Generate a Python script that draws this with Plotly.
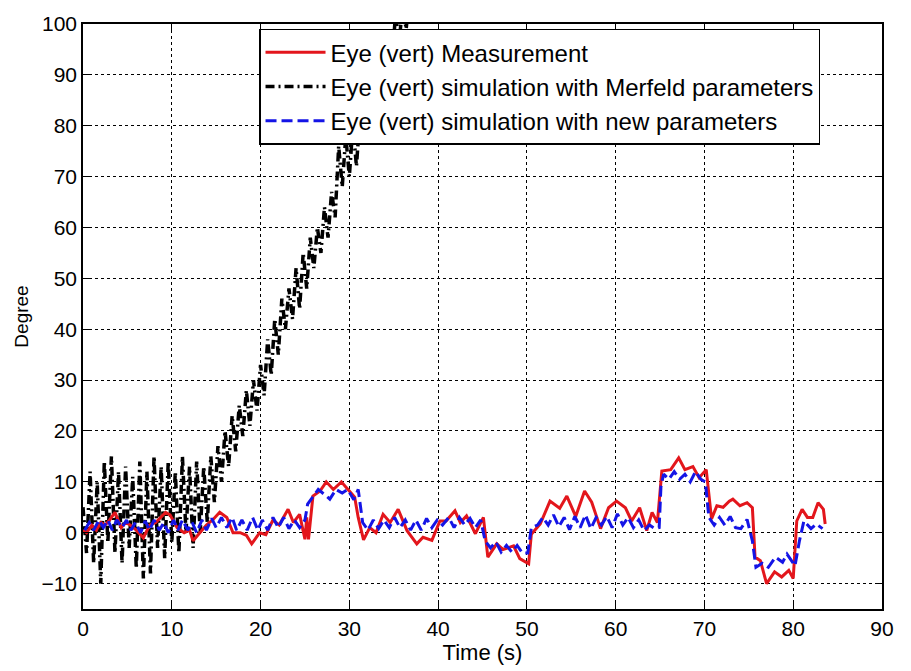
import plotly.graph_objects as go

# ---------------- data ----------------
red_t = [0.0, 0.4, 1.0, 1.5, 2.0, 2.5, 3.0, 3.6, 4.3, 4.8, 5.3, 6.0, 6.8, 7.5, 8.2, 8.7, 9.3, 9.8,
         10.6, 11.4, 12.0, 12.4, 13.2, 13.9, 14.6, 15.4, 16.2, 16.9, 17.7, 18.4, 19.0, 19.9, 20.6,
         21.4, 22.1, 23.1, 23.7, 24.4, 25.0, 25.2, 25.4, 25.9, 26.7, 27.4, 28.2, 29.1, 30.0, 30.6,
         31.0, 31.6, 32.3, 33.0, 33.8, 34.6, 35.5, 36.5, 37.6, 38.3, 39.3, 40.2, 40.9, 41.9, 42.5,
         43.2, 44.2, 45.1, 45.6, 46.6, 47.3, 48.5, 49.2, 50.2, 50.5, 51.5, 52.6, 53.7, 54.5, 55.5,
         56.5, 57.3, 58.3, 59.2, 60.1, 61.1, 61.8, 62.7, 63.5, 64.1, 64.7, 65.2, 66.2, 67.1, 67.8,
         68.7, 69.4, 70.2, 70.8, 71.4, 72.1, 72.8, 73.2, 74.0, 74.8, 75.4, 75.7, 76.3, 77.0, 77.9,
         78.7, 79.5, 80.0, 80.4, 81.0, 81.6, 82.2, 82.8, 83.4, 83.6]
red_v = [0.5, 0, 1.5, 0.5, 2, 1.5, 2.5, 4, 1, 2, 1.5, 0.5, -1, 1.5, 2, 3, 4, 3.5,
         1, 0, 0.5, -1.6, 0, 1.5, 2.5, 4, 3, 0, 0, -0.5, -2.2, 0, -0.4,
         2.5, 1.5, 4.6, 2, 3.6, -1.3, 3, -1.3, 7.2, 8.2, 10, 8.5, 10, 8.2, 7,
         3, -1.4, 1, 0, 3.6, 2, 4.6, 0.4, -2.2, -0.9, -1.5, 2.3, 2.3, 4.3, 2,
         3.3, -0.2, 3, -4.8, -2.2, -3.3, -2.6, -5.1, -6.1, -0.3, 1.7, 6.2, 4.8, 7.2, 3.2,
         8.2, 6, 0.8, 4.9, 6.2, 4.9, 2.3, 4.9, 0.4, 4, 2, 12.1, 12.4, 14.7, 12.4,
         13, 10.8, 12.4, 2.7, 5.3, 5, 6.2, 6.6, 5.3, 5.9, 4.9, -4.8, -5.5, -10, -7.7,
         -8.7, -7.4, -9, 2.3, 4.6, 3, 3, 5.9, 4.6, 1.7]

blue_t = [0.2, 0.7, 1.2, 1.8, 2.3, 2.8, 3.3, 3.8, 4.4, 4.9, 5.4, 5.9, 6.5, 7.0, 7.5, 8.0, 8.6, 9.1,
          9.6, 10.2, 10.7, 11.2, 11.8, 12.3, 12.8, 13.4, 13.9, 14.5, 15.0, 15.6, 16.2, 16.8, 17.3,
          17.9, 18.5, 19.1, 19.7, 20.2, 20.8, 21.4, 22.0, 22.6, 23.2, 23.8, 24.4, 25.0, 25.3, 25.9,
          26.5, 27.2, 27.8, 28.5, 29.2, 29.8, 30.5, 31.0, 31.5, 32.1, 32.7, 33.3, 33.9, 34.5, 35.1,
          35.7, 36.3, 36.9, 37.5, 38.1, 38.7, 39.3, 39.9, 40.5, 41.2, 41.8, 42.4, 43.0, 43.6, 44.2,
          44.8, 45.3, 45.9, 46.5, 47.1, 47.7, 48.3, 48.9, 49.5, 50.1, 50.5, 51.2, 51.8, 52.4, 53.0,
          53.6, 54.2, 54.8, 55.4, 56.0, 56.6, 57.2, 57.8, 58.4, 59.0, 59.6, 60.2, 60.8, 61.4, 62.0,
          62.6, 63.2, 63.8, 64.4, 64.9, 65.1, 65.4, 66.0, 66.6, 67.2, 67.8, 68.4, 69.0, 69.6, 70.1,
          70.5, 71.1, 71.7, 72.3, 72.9, 73.5, 74.1, 74.8, 75.4, 75.8, 76.5, 77.2, 78.0, 78.8, 79.3,
          80.2, 80.7, 81.2, 82.0, 82.6, 83.3]
blue_v = [0.5, 2, 0.5, 2.5, 1, 2.5, 0.5, 2.5, 1, 2.5, 0.5, 2, 0, 2.3, 0.5, 2.5, 0.5, 2,
          0, 2.5, 0.5, 2.5, 0.5, 2, 0, 2.5, 0.5, 2.8, 1, 3, 1, 3, 0.5,
          2.5, 0.5, 3, 0.5, 2.5, 0.5, 3, 1, 3, 0.8, 2.5, 1, 2.5, 5.6, 7,
          8.5, 7.5, 6.6, 8.5, 7.8, 8.5, 6.5, 8.5, 2, 0.5, 2.5, 0.8, 2.5, 1, 3,
          1, 2.5, 0.5, 2.5, 0.5, 2.8, 1, 2.5, 1.5, 3, 1, 3, 1.5, 2.8, 1,
          2.5, -1.6, -3, -1.8, -3.8, -2.5, -3.8, -2.5, -4, -4, 1, 1.5, 3, 1.5, 3.5,
          1.2, 3, 0.6, 3.2, 1, 3.5, 0.8, 3, 1.5, 3.2, 1, 3.7, 1.5, 3, 1,
          2.5, 0.4, 1.5, 0.8, 1, 9, 11.5, 10.5, 12, 10.5, 11.5, 10, 12, 10.5, 10,
          3, 1.5, 3, 1.5, 3.2, 1, 0.8, 2.6, -1.6, -6.8, -6, -6.8, -4.8, -5.8, -4.2,
          -6.5, -1.6, 2.3, 0.8, 1.7, 0.8]

black_t = [0.0, 0.4, 0.8, 1.2, 1.6, 2.0, 2.4, 2.8, 3.2, 3.6, 4.0, 4.4, 4.8, 5.2, 5.6, 6.0, 6.4, 6.8,
           7.2, 7.6, 8.0, 8.4, 8.8, 9.2, 9.6, 10.0, 10.4, 10.8, 11.2, 11.6, 12.0, 12.4, 12.8, 13.2,
           13.6, 14.0, 14.4, 14.8, 15.2, 15.6, 16.0, 16.4, 16.8, 17.2, 17.6, 18.0, 18.4, 18.8, 19.2,
           19.6, 20.0, 20.4, 20.8, 21.2, 21.6, 22.0, 22.4, 22.8, 23.2, 23.6, 24.0, 24.4, 24.8, 25.2,
           25.6, 26.0, 26.4, 26.8, 27.2, 27.6, 28.0, 28.4, 28.8, 29.2, 29.6, 30.0, 30.4, 30.8, 31.2,
           31.6, 32.0, 32.4, 32.8, 33.2, 33.6, 34.0, 34.4, 34.8, 35.2, 35.6, 36.0, 36.4, 36.8]
black_v = [5, -4, 12, -6, 10, -10, 14, -2, 15, -4, 12, -6, 13, -3, 11, -7, 14, -9,
           12, -8, 15, -3, 13, -5, 14, -2, 12, -4, 15, 0, 13, -3, 14, 0,
           13, 2, 15, 6, 17, 10, 20, 13, 23, 16, 25, 19, 28, 21, 30,
           24, 33, 27, 38, 31, 42, 35, 46, 40, 48, 42, 52, 44, 55, 48,
           58, 52, 60, 55, 64, 58, 67, 62, 76, 68, 78, 70, 80, 72, 82,
           76, 86, 80, 90, 84, 94, 88, 98, 92, 102, 96, 104, 99, 106]

x_ticks = [0, 10, 20, 30, 40, 50, 60, 70, 80, 90]
y_ticks = [-10, 0, 10, 20, 30, 40, 50, 60, 70, 80, 90, 100]

names = ["Eye (vert) Measurement",
         "Eye (vert) simulation with Merfeld parameters",
         "Eye (vert) simulation with new parameters"]

# ---------------- figure ----------------
fig = go.Figure()
fig.add_trace(go.Scatter(x=black_t, y=black_v, mode="lines", name=names[1], legendgroup="b",
                         legendrank=2,
                         line=dict(color="black", width=3.5, dash="9px,4px,2px,4px")))
fig.add_trace(go.Scatter(x=red_t, y=red_v, mode="lines", name=names[0], legendgroup="a",
                         legendrank=1,
                         line=dict(color="#e3161c", width=3)))
fig.add_trace(go.Scatter(x=blue_t, y=blue_v, mode="lines", name=names[2], legendgroup="c",
                         legendrank=3,
                         line=dict(color="#1414e6", width=3, dash="11px,5px")))

font = "Liberation Sans, Arial, sans-serif"
axis_common = dict(
    showline=True, linecolor="black", linewidth=1.5, mirror="ticks",
    ticks="inside", ticklen=7, tickcolor="black", tickwidth=1,
    showgrid=True, gridcolor="black", gridwidth=1, griddash="dot",
    zeroline=False, tickfont=dict(family=font, size=21, color="black"),
)

fig.update_layout(
    width=911, height=671,
    margin=dict(l=83, r=29, t=19, b=62),
    paper_bgcolor="white", plot_bgcolor="white",
    font=dict(family=font, color="black"),
    xaxis=dict(range=[0, 90], tickvals=x_ticks,
               title=dict(text="Time (s)", font=dict(family=font, size=22), standoff=4),
               **axis_common),
    yaxis=dict(range=[-15, 100], tickvals=y_ticks,
               title=dict(text="Degree", font=dict(family=font, size=19), standoff=8),
               **axis_common),
    legend=dict(x=0.2203, y=0.992, xanchor="left", yanchor="top",
                bgcolor="white", bordercolor="black", borderwidth=1.5,
                font=dict(family=font, size=24, color="black"),
                itemwidth=60, tracegroupgap=0, traceorder="normal"),
    showlegend=True,
)

fig.write_html("out.html")
